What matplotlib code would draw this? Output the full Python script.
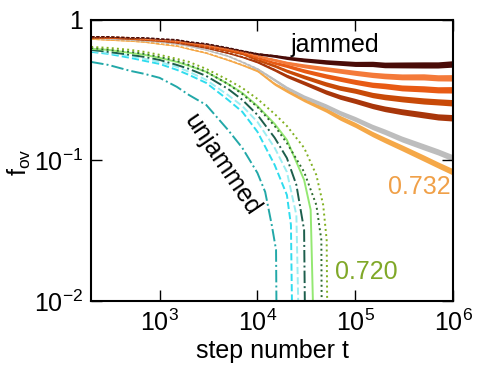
import numpy as np
import matplotlib
matplotlib.use("Agg")
import matplotlib.pyplot as plt
from matplotlib.ticker import LogLocator, FuncFormatter, NullLocator

plt.rcParams['font.family'] = ['Liberation Sans', 'DejaVu Sans']
plt.rcParams['mathtext.fontset'] = 'custom'
plt.rcParams['mathtext.rm'] = 'Liberation Sans'
plt.rcParams['mathtext.it'] = 'Liberation Sans'

##### jammed runs (plateau) #####
t_jam = [200, 300, 500, 700, 1e3, 1.5e3, 2e3, 3e3, 5e3, 7e3, 1e4, 1.5e4, 2e4, 3e4,
         5e4, 7e4, 1e5, 1.5e5, 2e5, 3e5, 5e5, 7e5, 1e6]

f_maroon = [.757, .757, .745, .745, .732, .721, .697, .675, .632, .602, .573, .554, .537, .519,
            .502, .494, .486, .486, .478, .478, .478, .478, .486]
f_orange = [.757, .757, .745, .732, .721, .709, .686, .664, .622, .592, .554, .519, .494, .471,
            .448, .434, .420, .406, .399, .393, .393, .387, .387]
f_orred = [.757, .745, .745, .732, .721, .697, .686, .653, .612, .582, .537, .494, .471, .434,
           .399, .380, .362, .345, .339, .328, .323, .318, .318]
f_brown = [.745, .745, .732, .721, .709, .697, .675, .642, .602, .573, .519, .471, .434, .393,
           .350, .328, .313, .292, .283, .274, .265, .261, .257]
f_redbrown = [.745, .745, .732, .721, .709, .686, .664, .632, .582, .545, .502, .441, .399, .356,
              .307, .283, .265, .244, .233, .222, .211, .204, .201]
f_gray = [.745, .732, .721, .709, .697, .675, .653, .612, .554, .502, .448, .374, .328, .283,
          .244, .218, .197, .173, .160, .142, .125, .115, .104]
f_lorange = [.732, .721, .709, .697, .675, .653, .622, .582, .519, .478, .434, .350, .313, .270,
             .229, .201, .179, .154, .140, .123, .104, .0929, .0828]

# width of the noisy band (decades) along t_jam
jam_spread = [.003, .003, .003, .003, .003, .003, .004, .004, .005, .006, .008, .010, .012, .014,
              .016, .017, .018, .019, .020, .021, .022, .022, .023]

##### unjammed runs (drop to zero) #####
t_teal = [200, 300, 500, 700, 1e3, 1.5e3, 2e3, 3e3, 5e3, 7e3, 1e4, 1.2e4, 1.4e4, 1.55e4, 1.6e4]
f_teal = [.502, .478, .434, .413, .387, .334, .292, .248, .165, .123, .0815, .0597, .0348, .0231, .001]

t_cyan = [200, 300, 500, 700, 1e3, 1.5e3, 2e3, 3e3, 5e3, 7e3, 1e4, 1.5e4, 2e4, 2.2e4, 2.35e4]
f_cyan = [.592, .573, .537, .511, .486, .441, .406, .356, .270, .222, .160, .0929, .0568, .0348, .001]

t_lcyan = [200, 300, 500, 700, 1e3, 1.5e3, 2e3, 3e3, 5e3, 7e3, 1e4, 1.5e4, 2e4, 2.5e4, 2.8e4]
f_lcyan = [.602, .582, .554, .528, .502, .463, .427, .374, .292, .244, .188, .123, .0828, .0409, .001]

t_dteal = [200, 300, 500, 700, 1e3, 1.5e3, 2e3, 3e3, 5e3, 7e3, 1e4, 1.5e4, 2e4, 2.5e4, 3e4, 3.15e4]
f_dteal = [.612, .592, .564, .545, .519, .478, .448, .399, .323, .270, .211, .145, .104, .0670, .0320, .001]

t_lgreen = [200, 300, 500, 700, 1e3, 1.5e3, 2e3, 3e3, 5e3, 7e3, 1e4, 1.5e4, 2e4, 3e4, 3.5e4, 4e4]
f_lgreen = [.622, .612, .582, .564, .537, .502, .471, .427, .350, .302, .244, .182, .140, .0727, .0445, .001]

t_dgreen = [200, 300, 500, 700, 1e3, 1.5e3, 2e3, 3e3, 5e3, 7e3, 1e4, 1.5e4, 2e4, 3e4, 4e4, 4.5e4, 4.6e4]
f_dgreen = [.632, .612, .592, .573, .545, .511, .478, .427, .350, .297, .240, .176, .133, .0828, .0482, .0272, .001]

t_olive = [200, 300, 500, 700, 1e3, 1.5e3, 2e3, 3e3, 5e3, 7e3, 1e4, 1.5e4, 2e4, 3e4, 4e4, 4.7e4, 5.1e4, 5.3e4]
f_olive = [.642, .632, .612, .592, .564, .528, .502, .448, .374, .328, .274, .214, .176, .123, .0788, .0482, .0272, .001]


fig = plt.figure(figsize=(4.8, 3.68), dpi=100)
ax = fig.add_axes([0.19, 0.182, 0.754, 0.764])

# jammed: light ones first so the gray sits on top of the orange
jammed = [(f_lorange, '#f5a848'), (f_gray, '#bdbdbd'), (f_redbrown, '#a8360a'),
          (f_brown, '#c84a08'), (f_orred, '#e85a14'), (f_orange, '#f47a3a'), (f_maroon, '#4a0c08')]
s = 10 ** np.array(jam_spread)
for f, c in jammed:
    f = np.array(f)
    ax.fill_between(t_jam, f / s, f * s, color=c, lw=0)
    ax.plot(t_jam, f, color=c, lw=1.2, ls=(0, (2, 1)))

unjammed = [(t_teal, f_teal, '#22a8a8', '-.'), (t_cyan, f_cyan, '#2fdcee', '--'),
            (t_lcyan, f_lcyan, '#9ceef2', '--'), (t_dteal, f_dteal, '#1d5e4c', '-.'),
            (t_lgreen, f_lgreen, '#94e872', '-'), (t_dgreen, f_dgreen, '#2e6a30', ':'),
            (t_olive, f_olive, '#80b020', ':')]
for t, f, c, ls in unjammed:
    ax.plot(t, f, color=c, lw=1.4, ls=ls)

ax.set_xscale('log')
ax.set_yscale('log')
ax.set_xlim(200, 1e6)
ax.set_ylim(1e-2, 1)


def fmt(v, pos):
    n = int(round(np.log10(v)))
    if n == 0:
        return '1'
    return r'$10^{%d}$' % n


ax.xaxis.set_major_locator(LogLocator(base=10, numticks=10))
ax.yaxis.set_major_locator(LogLocator(base=10, numticks=10))
ax.xaxis.set_minor_locator(NullLocator())
ax.yaxis.set_minor_locator(NullLocator())
ax.xaxis.set_major_formatter(FuncFormatter(fmt))
ax.yaxis.set_major_formatter(FuncFormatter(fmt))
ax.tick_params(which='both', direction='in', top=True, right=True, length=8, width=1,
               labelsize=18, pad=6)
for sp in ax.spines.values():
    sp.set_linewidth(1.5)

ax.set_xlabel('step number t', fontsize=18, labelpad=2)
fig.text(0.04, 0.56, r'f$_{\rm ov}$', rotation=90, fontsize=18, ha='center', va='center')

ax.text(0.674, 0.911, 'jammed', transform=ax.transAxes, fontsize=18, ha='center', va='center')
ax.text(0.362, 0.484, 'unjammed', transform=ax.transAxes, fontsize=18, ha='center', va='center',
        rotation=-56)
ax.text(0.992, 0.406, '0.732', transform=ax.transAxes, fontsize=18, ha='right', va='center',
        color='#f0a048')
ax.text(0.674, 0.103, '0.720', transform=ax.transAxes, fontsize=18, ha='left', va='center',
        color='#80a828')

fig.savefig('out.png', dpi=100)
